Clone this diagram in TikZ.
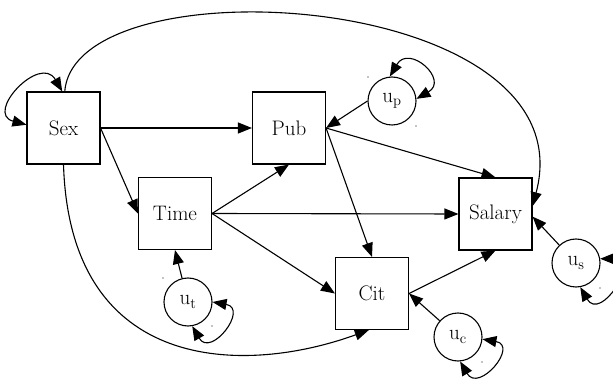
\documentclass[tikz,border=0pt]{standalone}
\usetikzlibrary{arrows.meta}
\begin{document}
\begin{tikzpicture}[
  x=1pt, y=1pt,
  box/.style={draw, line width=1.1pt, minimum width=73pt, minimum height=72pt, inner sep=0pt, font=\fontsize{21}{25}\selectfont},
  err/.style={draw, circle, line width=1.1pt, minimum size=48pt, inner sep=0pt, font=\fontsize{21}{25}\selectfont},
  arrow/.style={-{Triangle[length=14pt,width=11pt]}, line width=1.1pt},
  twoway/.style={{Triangle[length=14pt,width=11pt]}-{Triangle[length=14pt,width=11pt]}, line width=1.1pt}
]
  \useasboundingbox (0,0) rectangle (613,-379);
  \clip (0,0) rectangle (613,-379);

  % Observed variables
  \node[box] (sex) at (63.5,-128) {Sex};
  \node[box] (pub) at (289,-128) {Pub};
  \node[box] (time) at (175,-213.5) {Time};
  \node[box] (salary) at (495.5,-214) {Salary};
  \node[box] (cit) at (372,-293.5) {Cit};

  % Disturbance terms
  \node[err] (up) at (392,-101) {u\textsubscript{p}};
  \node[err] (ut) at (188,-302) {u\textsubscript{t}};
  \node[err] (uc) at (458,-337) {u\textsubscript{c}};
  \node[err] (us) at (576,-263) {u\textsubscript{s}};

  % Paths
  \draw[arrow] (sex.east) -- (pub.west);
  \draw[arrow] (sex.east) -- (time.west);
  \draw[arrow] (time.east) -- (pub.south);
  \draw[arrow] (time.east) -- (salary.west);
  \draw[arrow] (time.east) -- (cit.west);
  \draw[arrow] (pub.east) -- (salary.north);
  \draw[arrow] (pub.east) -- (cit.north);
  \draw[arrow] (cit.east) -- (salary.south);
  \draw[arrow] (sex.88) .. controls (75,40) and (590,10) .. (salary.12);
  \draw[arrow] (sex.south) .. controls (70,-375) and (245,-375) .. (cit.265);

  % Disturbances into their variables
  \draw[arrow] (up.west) -- (pub.east);
  \draw[arrow] (ut) -- (time.south);
  \draw[arrow] (uc) -- (cit.east);
  \draw[arrow] (us) -- (salary.-4);

  % Variances
  \draw[twoway] (sex.175) to[out=165, in=120, looseness=2.3] (sex.92);
  \draw[twoway] (up.95) to[out=60, in=30, looseness=2.8] (up.5);
  \draw[twoway] (ut.east) to[out=-10, in=-60, looseness=3] (ut.-80);
  \draw[twoway] (uc.-5) to[out=-10, in=-60, looseness=3] (uc.-85);
  \draw[twoway] (us.10) to[out=0, in=-60, looseness=3] (us.-80);

  % Small marks beside the disturbances
  \fill (368,-77) circle (0.6pt) (416,-126) circle (0.6pt);
  \fill (163,-278) circle (0.6pt) (212,-326) circle (0.6pt);
  \fill (482,-362) circle (0.6pt) (600,-288) circle (0.6pt);
\end{tikzpicture}
\end{document}
